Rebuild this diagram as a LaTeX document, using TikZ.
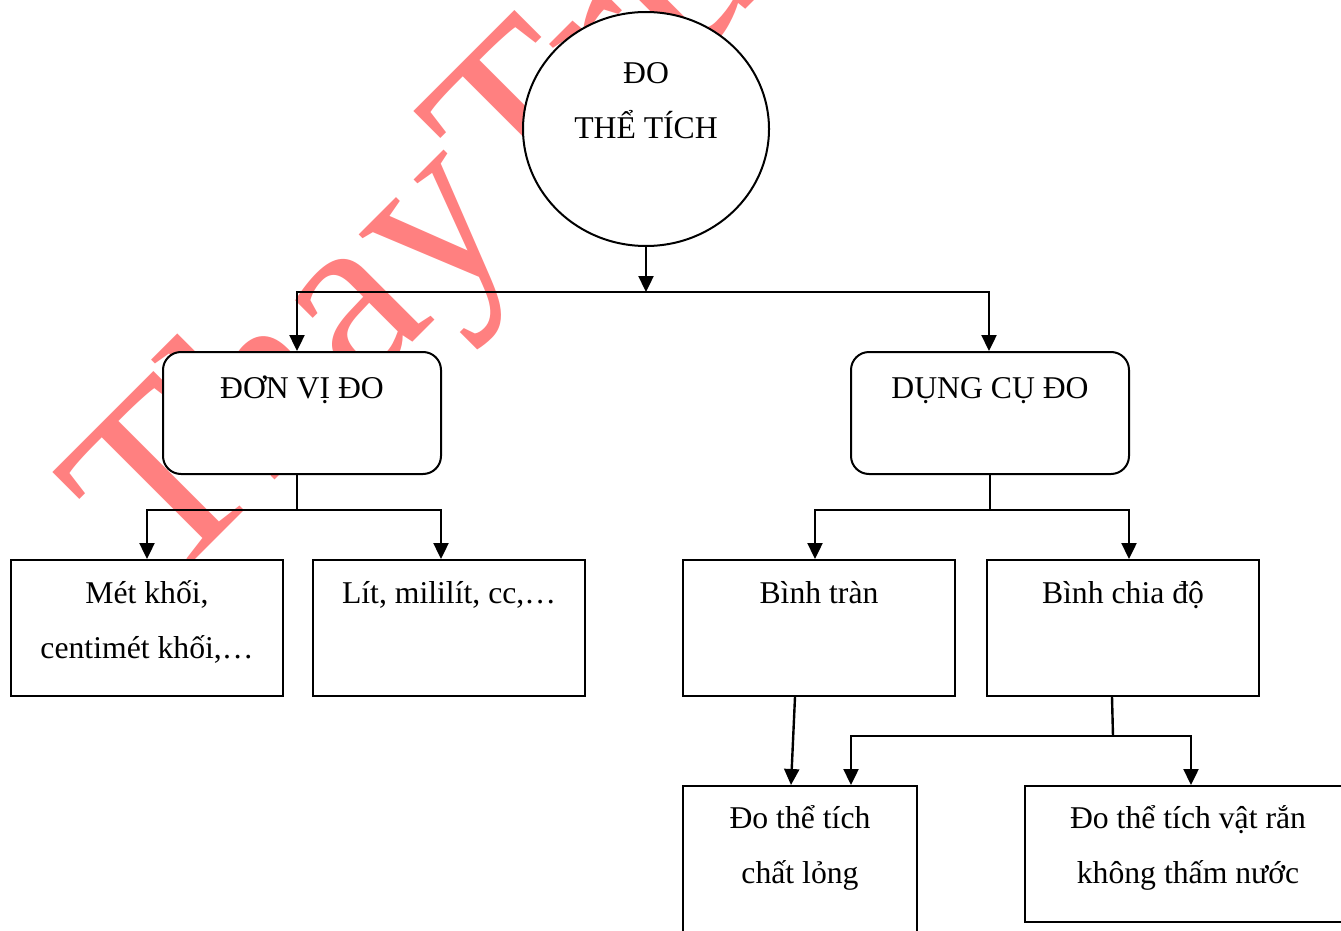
\documentclass[tikz,border=0pt]{standalone}
\usepackage{fontspec}
\setmainfont{Liberation Serif}
\usetikzlibrary{arrows.meta,shapes.geometric,calc}
\definecolor{wm}{RGB}{255,128,128}
\begin{document}
\begin{tikzpicture}[x=1pt,y=-1pt,
  every node/.style={font=\fontsize{31.7}{38}\selectfont},
  box/.style={draw, line width=2pt, fill=white, rectangle, inner sep=0pt},
  rbox/.style={box, rounded corners=18pt},
  txt/.style={anchor=base, inner sep=0pt},
  conn/.style={line width=2.4pt},
  arr/.style={conn, -{Triangle[length=16pt,width=15pt]}},
]
\path[use as bounding box, clip] (0,0) rectangle (1341,931);
\fill[white] (0,0) rectangle (1341,931);
% watermark
\node[anchor=base west, rotate=45, inner sep=0pt, text=wm,
      font=\fontsize{248}{250}\selectfont] (wmark) at (164.5,590.5) {ThayTruong};

% boxes
\node[box, ellipse, minimum width=246pt, minimum height=234pt] (root) at (646,129) {};
\node[rbox, minimum width=278pt, minimum height=122pt] (donvi) at (302,413) {};
\node[rbox, minimum width=278pt, minimum height=122pt] (dungcu) at (990,413) {};
\node[box, minimum width=272pt, minimum height=136pt] (metkhoi) at (147,628) {};
\node[box, minimum width=272pt, minimum height=136pt] (lit) at (449,628) {};
\node[box, minimum width=272pt, minimum height=136pt] (binhtran) at (819,628) {};
\node[box, minimum width=272pt, minimum height=136pt] (binhchia) at (1123,628) {};
\node[box, minimum width=234pt, minimum height=160pt] (chatlong) at (800,866) {};
\node[box, minimum width=326pt, minimum height=136pt] (vatran) at (1188,854) {};

% texts
\node[txt] (t0a) at (646,84) {ĐO};
\node[txt] (t0b) at (646,139) {THỂ TÍCH};
\node[txt] (t1) at (302,398) {ĐƠN VỊ ĐO};
\node[txt] (t2) at (990,398) {DỤNG CỤ ĐO};
\node[txt] (t3a) at (147,603) {Mét khối,};
\node[txt] (t3b) at (147,658) {centimét khối,…};
\node[txt] (t4) at (449,603) {Lít, mililít, cc,…};
\node[txt] (t5) at (819,603) {Bình tràn};
\node[txt] (t6) at (1123,603) {Bình chia độ};
\node[txt] (t7a) at (800,828) {Đo thể tích};
\node[txt] (t7b) at (800,883) {chất lỏng};
\node[txt] (t8a) at (1188,828) {Đo thể tích vật rắn};
\node[txt] (t8b) at (1188,883) {không thấm nước};

% connectors
\coordinate (j1) at (646,292);
\coordinate (j2) at (297,510);
\coordinate (j3) at (990,510);
\coordinate (j4) at (1113,736);
\draw[arr] (root.south) -- (j1);
\draw[arr] (j1) -| ([xshift=-5pt]donvi.north);
\draw[arr] (j1) -| ([xshift=-1pt]dungcu.north);
\draw[conn] (donvi.south -| j2) -- (j2);
\draw[arr] (j2) -| (metkhoi.north);
\draw[arr] (j2) -| ([xshift=-8pt]lit.north);
\draw[conn] (dungcu.south) -- (j3);
\draw[arr] (j3) -| ([xshift=-4pt]binhtran.north);
\draw[arr] (j3) -| ([xshift=6pt]binhchia.north);
\draw[arr] ([xshift=-24pt]binhtran.south) -- ([xshift=-9pt]chatlong.north);
\draw[conn] ([xshift=-11pt]binhchia.south) -- (j4);
\draw[arr] (j4) -| ([xshift=51pt]chatlong.north);
\draw[arr] (j4) -| ([xshift=3pt]vatran.north);
\end{tikzpicture}
\end{document}
